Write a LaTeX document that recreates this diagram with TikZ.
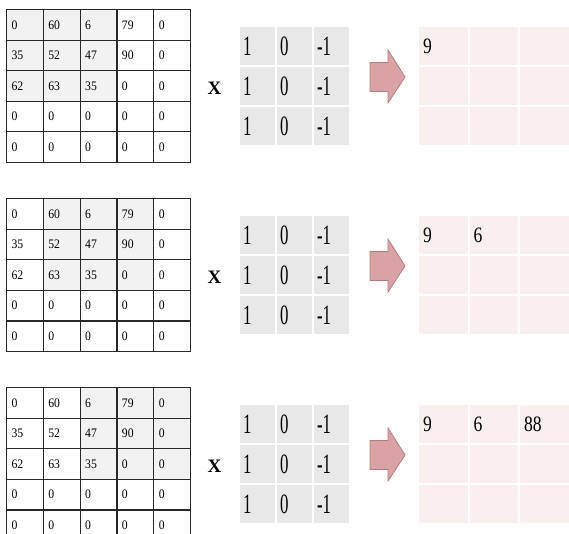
\documentclass[tikz,border=0pt]{standalone}
\usepackage{fontspec}
\setmainfont{Liberation Serif}
\newfontfamily\gridfont[FakeStretch=0.9]{Liberation Serif}
\newfontfamily\kernfont[FakeStretch=0.6]{Liberation Serif}
\newfontfamily\outfont[FakeStretch=0.8]{Liberation Serif}
\usetikzlibrary{positioning}
\definecolor{gridline}{RGB}{40,40,40}
\definecolor{hilite}{RGB}{242,242,242}
\definecolor{kgray}{RGB}{232,232,232}
\definecolor{outpink}{RGB}{248,239,238}
\definecolor{arrfill}{RGB}{217,163,165}
\definecolor{arrline}{RGB}{184,122,124}

\begin{document}
\begin{tikzpicture}[x=1pt, y=-1pt,
  incell/.style={draw=gridline, line width=1.1pt, anchor=north west, align=left,
                 inner xsep=5pt, inner ysep=0pt, text width=26.8pt, minimum height=30.6pt,
                 font=\gridfont\fontsize{13}{13}\selectfont},
  kcell/.style={fill=kgray, draw=white, line width=2pt, anchor=north west, align=left,
                inner xsep=4pt, inner ysep=0pt, text width=29pt, minimum height=40pt,
                font=\kernfont\fontsize{28}{28}\selectfont},
  ocell/.style={fill=outpink, draw=white, line width=2pt, anchor=north west, align=left,
                inner xsep=5pt, inner ysep=0pt, text width=40.5pt, minimum height=40pt,
                font=\outfont\fontsize{22}{22}\selectfont},
  times/.style={font=\bfseries\fontsize{19}{19}\selectfont, inner sep=0pt},
  blockarr/.style={fill=arrfill, draw=arrline, line width=0.8pt}]

\useasboundingbox (0,0) rectangle (569,534);

\foreach \p in {0,1,2} {
  \begin{scope}[shift={(0,\p*189)}]
    % input image, window shifted by \p columns
    \foreach \row [count=\r] in {{0,60,6,79,0},{35,52,47,90,0},{62,63,35,0,0},{0,0,0,0,0},{0,0,0,0,0}} {
      \foreach \v [count=\c] in \row {
        \pgfmathtruncatemacro\hl{and(\r<4, and(\c>\p, \c<\p+4))}
        \ifnum\hl=1 \def\cf{hilite}\else\def\cf{white}\fi
        \node[incell, fill=\cf] (in-\p-\r-\c) at ({6+(\c-1)*36.8}, {9+(\r-1)*30.6}) {\v};
      }
    }
    % kernel
    \foreach \r in {1,2,3} {
      \foreach \v [count=\c] in {1,0,-1}
        \node[kcell] (k-\p-\r-\c) at ({238+(\c-1)*37}, {25+(\r-1)*40}) {\v};
    }
    \node[times] (x-\p) at (214.5,88) {X};
    % block arrow
    \draw[blockarr] (370,62.5) -- (388,62.5) -- (388,50) -- (405,77) -- (388,103)
      -- (388,91.5) -- (370,91.5) -- cycle;
    % feature map
    \foreach \r in {1,2,3} {
      \foreach \v [count=\c] in {9,6,88} {
        \pgfmathtruncatemacro\show{and(\r==1, \c<\p+2)}
        \ifnum\show=1 \def\txt{\v}\else\def\txt{}\fi
        \node[ocell] (out-\p-\r-\c) at ({417+(\c-1)*50.5}, {25+(\r-1)*40}) {\txt};
      }
    }
  \end{scope}
}
\end{tikzpicture}
\end{document}
